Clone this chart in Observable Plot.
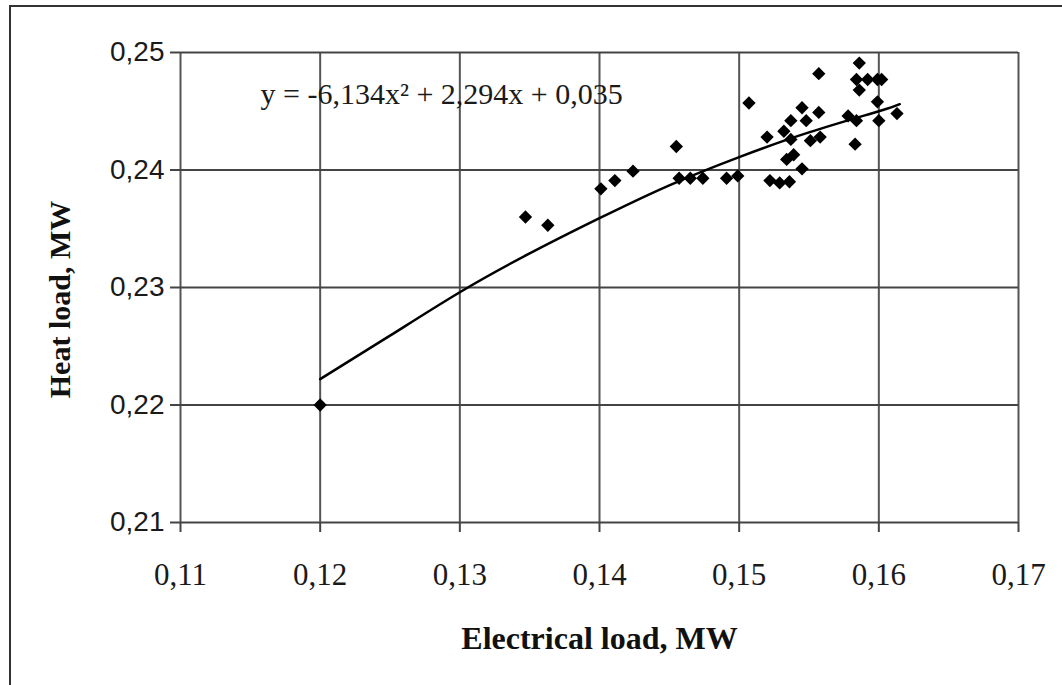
<!DOCTYPE html>
<html>
<head>
<meta charset="utf-8">
<script src="https://cdn.jsdelivr.net/npm/d3@7"></script>
<script src="https://cdn.jsdelivr.net/npm/@observablehq/plot@0.6"></script>
<style>
  html, body { margin: 0; padding: 0; background: #fff; }
  #wrap { position: relative; width: 1062px; height: 685px; overflow: hidden; }
  #frame { position: absolute; left: 9px; top: 5px; width: 1200px; height: 900px;
           border-left: 2px solid #333; border-top: 2px solid #333; pointer-events: none; }
</style>
</head>
<body>
<div id="wrap"><div id="frame"></div></div>
<script>
// Electrical load (MW) vs heat load (MW) — scatter points
const elecLoad = [0.1200, 0.1347, 0.1363, 0.1401, 0.1411, 0.1424, 0.1455, 0.1457, 0.1465, 0.1474,
  0.1491, 0.1499, 0.1507, 0.1520, 0.1522, 0.1529, 0.1536, 0.1532, 0.1537, 0.1534,
  0.1539, 0.1537, 0.1545, 0.1545, 0.1548, 0.1551, 0.1557, 0.1558, 0.1557, 0.1578,
  0.1584, 0.1583, 0.1586, 0.1584, 0.1592, 0.1599, 0.1602, 0.1586, 0.1599, 0.1600, 0.1613];
const heatLoad = [0.2200, 0.2360, 0.2353, 0.2384, 0.2391, 0.2399, 0.2420, 0.2393, 0.2393, 0.2393,
  0.2393, 0.2395, 0.2457, 0.2428, 0.2391, 0.2389, 0.2390, 0.2433, 0.2442, 0.2409,
  0.2413, 0.2426, 0.2401, 0.2453, 0.2442, 0.2425, 0.2449, 0.2428, 0.2482, 0.2446,
  0.2442, 0.2422, 0.2491, 0.2477, 0.2477, 0.2477, 0.2477, 0.2468, 0.2458, 0.2442, 0.2448];

// Polynomial trend line
const trendX = [0.120, 0.125, 0.130, 0.135, 0.140, 0.145, 0.150, 0.155, 0.160, 0.1615];
const trendY = [0.2222, 0.2259, 0.2296, 0.2329, 0.2359, 0.2387, 0.2411, 0.2432, 0.2450, 0.2456];

const equation = "y = -6,134x² + 2,294x + 0,035";
const xTicks = [0.11, 0.12, 0.13, 0.14, 0.15, 0.16, 0.17];
const yTicks = [0.21, 0.22, 0.23, 0.24, 0.25];
const xTitle = "Electrical load, MW";
const yTitle = "Heat load, MW";

const points = elecLoad.map((x, i) => ({x, y: heatLoad[i]}));
const trend = trendX.map((x, i) => ({x, y: trendY[i]}));
const fmt = d => d.toFixed(2).replace(".", ",");

const chart = Plot.plot({
  width: 1062,
  height: 685,
  marginLeft: 180,
  marginRight: 44,
  marginTop: 52,
  marginBottom: 163,
  style: {background: "transparent", overflow: "visible"},
  x: {domain: [0.11, 0.17]},
  y: {domain: [0.21, 0.25]},
  marks: [
    Plot.gridX(xTicks, {stroke: "#555", strokeWidth: 2, strokeOpacity: 1}),
    Plot.gridY(yTicks, {stroke: "#444", strokeWidth: 2, strokeOpacity: 1}),
    Plot.axisX(xTicks, {tickSize: 10, tickPadding: 30, tickFormat: fmt, label: null,
      stroke: "#444", strokeWidth: 2, fill: "#1a1a1a",
      fontSize: 31, fontFamily: "Liberation Serif"}),
    Plot.axisY(yTicks, {tickSize: 10, tickPadding: 6, tickFormat: fmt, label: null,
      stroke: "#444", strokeWidth: 2, fill: "#1a1a1a",
      fontSize: 28, fontFamily: "Liberation Sans"}),
    Plot.line(trend, {x: "x", y: "y", curve: "natural", stroke: "black", strokeWidth: 2.5}),
    Plot.dot(points, {x: "x", y: "y", symbol: "diamond2", r: 6, fill: "black", stroke: "none"}),
    Plot.text([equation], {frameAnchor: "top-left", dx: 80, dy: 42, textAnchor: "start",
      lineAnchor: "middle", fontSize: 30, fontFamily: "Liberation Serif", fill: "#1a1a1a"}),
    Plot.text([xTitle], {frameAnchor: "bottom", dy: 116, textAnchor: "middle", lineAnchor: "middle",
      fontSize: 32, fontWeight: "bold", fontFamily: "Liberation Serif", fill: "#111"}),
    Plot.text([yTitle], {frameAnchor: "left", dx: -120, dy: 12, rotate: -90, textAnchor: "middle",
      lineAnchor: "middle", fontSize: 30, fontWeight: "bold", fontFamily: "Liberation Serif", fill: "#111"})
  ]
});
document.getElementById("wrap").prepend(chart);
</script>
</body>
</html>
